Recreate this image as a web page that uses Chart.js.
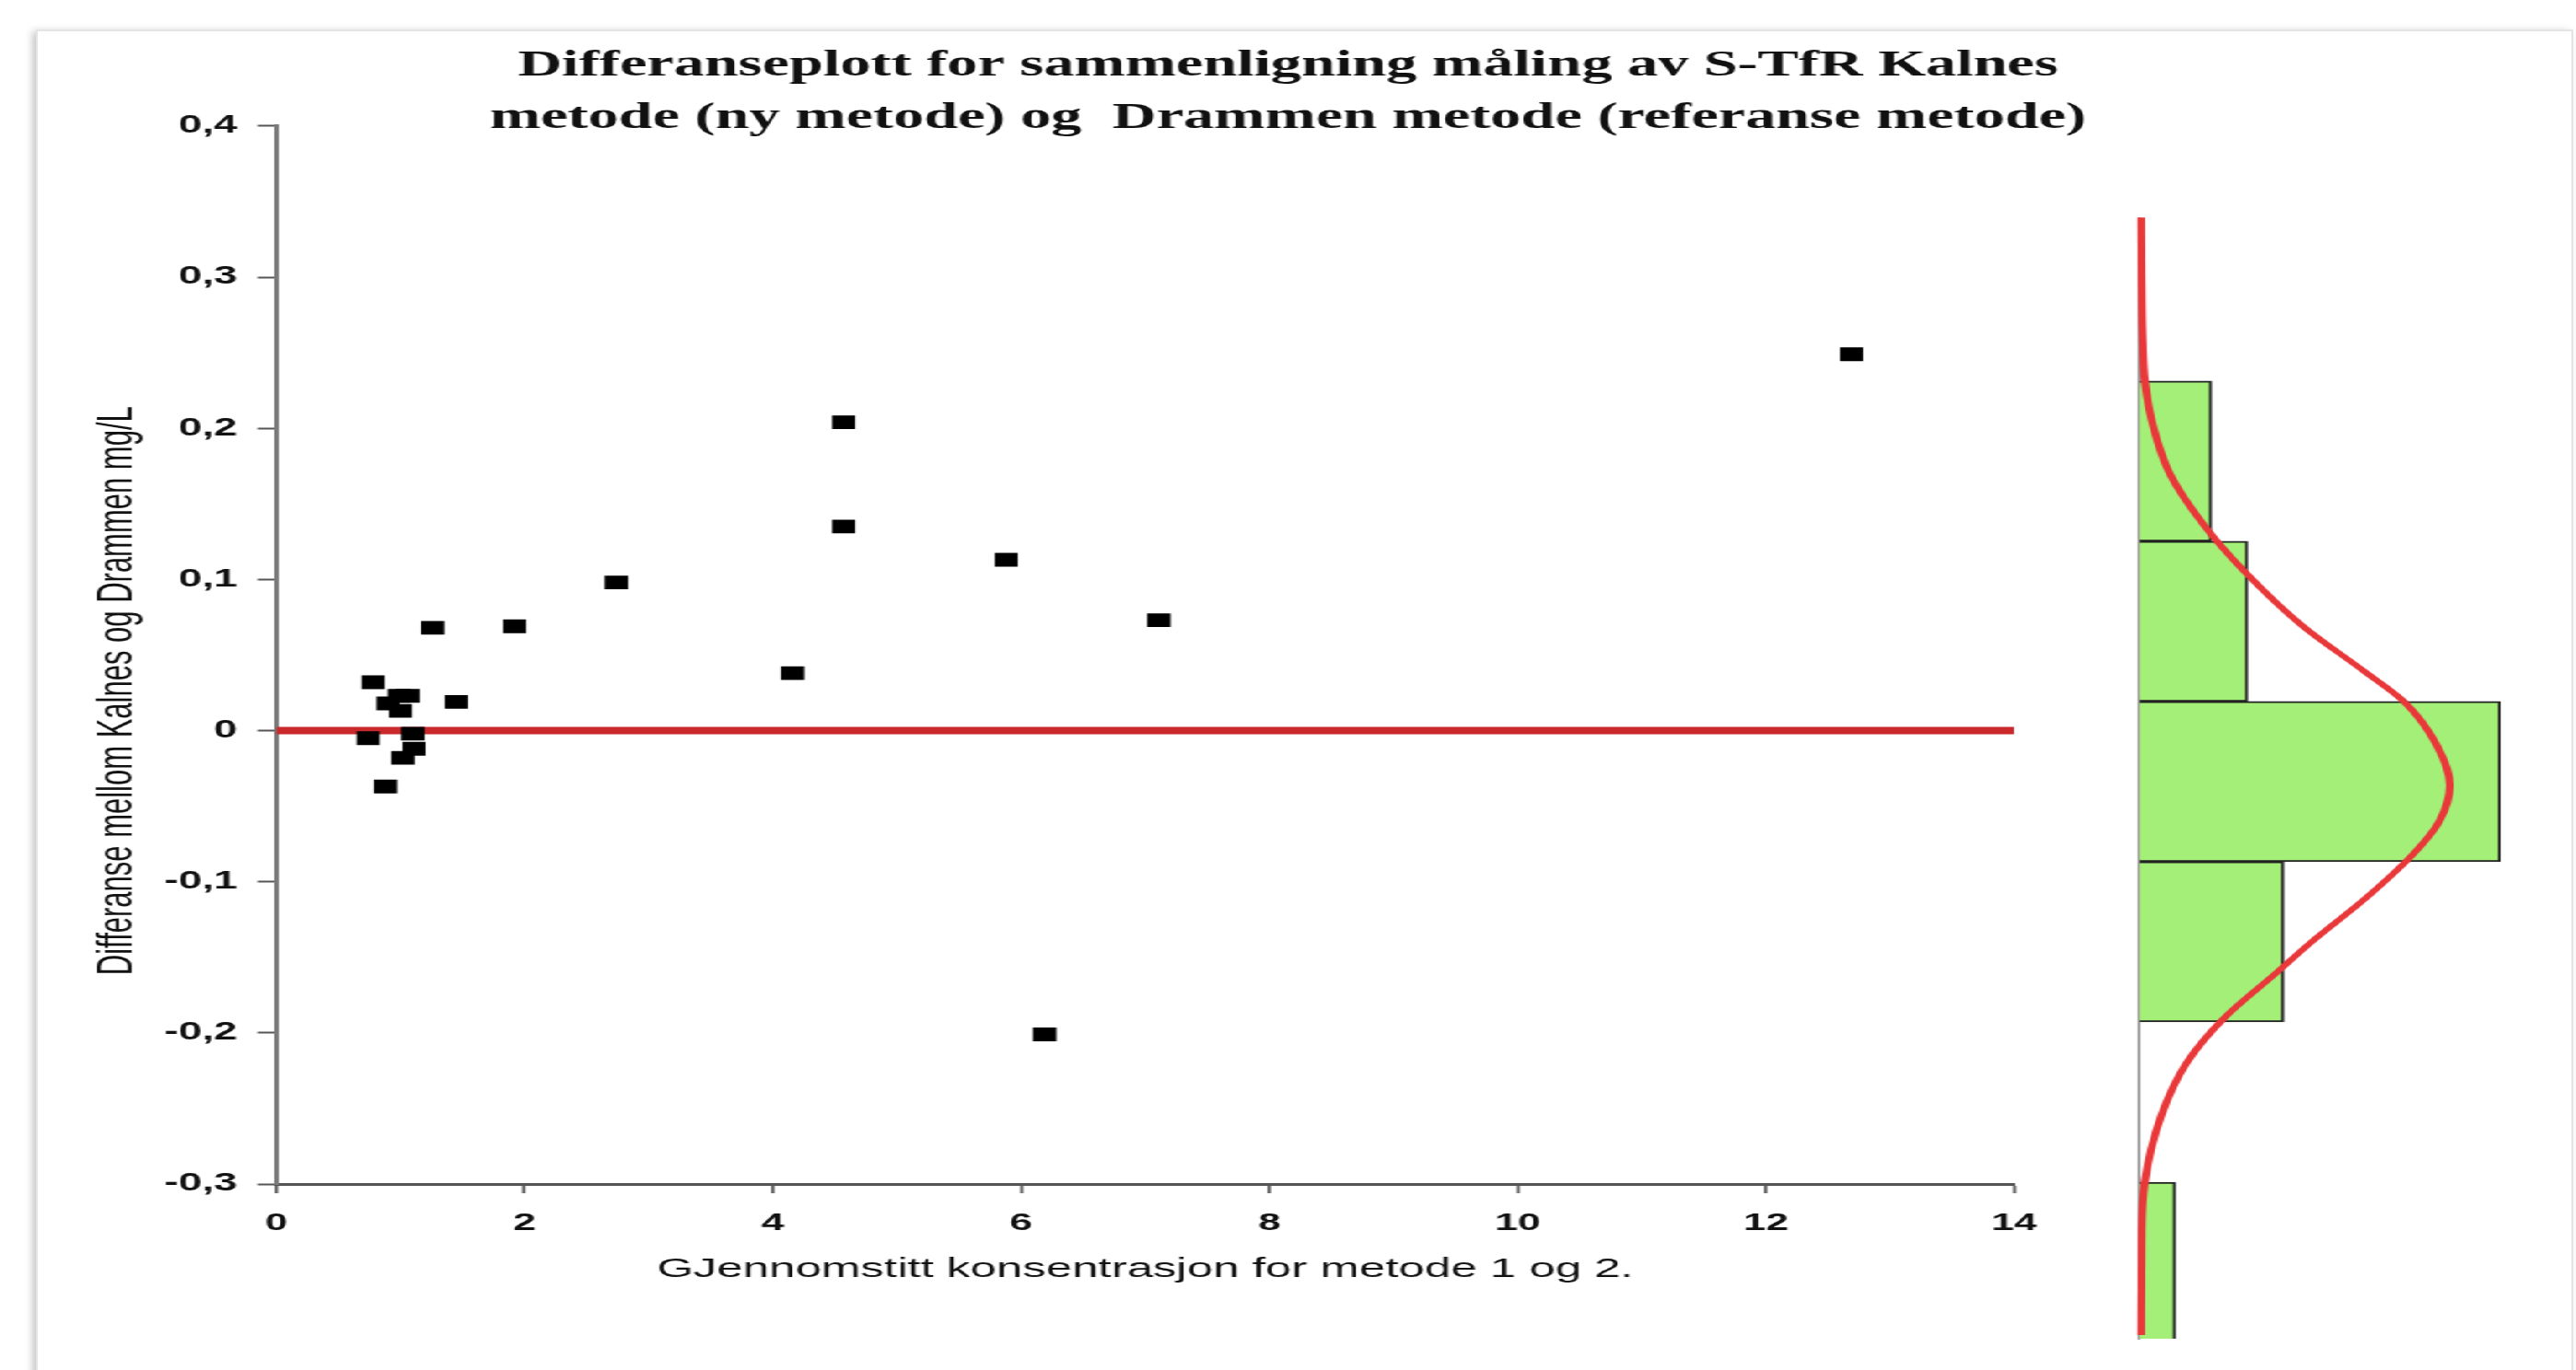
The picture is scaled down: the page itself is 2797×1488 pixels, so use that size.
<!DOCTYPE html>
<html><head><meta charset="utf-8">
<script src="https://cdn.jsdelivr.net/npm/chart.js@4.4.1/dist/chart.umd.min.js"></script>
<style>
html,body{margin:0;padding:0;background:#fff;width:2797px;height:1488px;overflow:hidden}
#frame{position:absolute;left:39px;top:32px;width:2751px;height:1500px;border:2px solid #e4e4e4;box-shadow:-4px 2px 8px rgba(0,0,0,0.22);}
#wrap{position:absolute;left:0;top:0;width:1645px;height:1488px;transform:scaleX(1.70030);transform-origin:0 0;}
#wrap canvas{position:absolute;left:0;top:0}
</style></head><body>
<div id="frame"></div>
<div id="wrap"><canvas id="scatter" width="1645" height="1488"></canvas><canvas id="hist" width="1645" height="1488"></canvas></div>
<script>
// ---- data ----
const titleLines = ["Differanseplott for sammenligning måling av S-TfR Kalnes", "metode (ny metode) og  Drammen metode (referanse metode)"];
const xTitle = "GJennomstitt konsentrasjon for metode 1 og 2.";
const yTitle = "Differanse mellom Kalnes og Drammen mg/L";
const meanConc = [0.78, 0.90, 0.99, 1.00, 1.06, 1.45, 0.74, 1.10, 1.11, 1.02, 0.88, 1.26, 1.92, 2.74, 4.16, 4.57, 4.57, 5.88, 7.11, 6.19, 12.69];
const diffVals = [0.032, 0.018, 0.023, 0.013, 0.023, 0.019, -0.005, -0.002, -0.012, -0.018, -0.037, 0.068, 0.069, 0.098, 0.038, 0.204, 0.135, 0.113, 0.073, -0.201, 0.249];
const zeroLineX = [0, 14];
const zeroLineY = [0, 0];
const xTicks = [0, 2, 4, 6, 8, 10, 12, 14];
const yTicks = [-0.3, -0.2, -0.1, 0, 0.1, 0.2, 0.3, 0.4];
const binCenters = [0.1787, 0.0726, -0.0335, -0.1396, -0.2457, -0.3518];
const binCounts = [2, 3, 10, 4, 0, 1];
const curveValues = [0.34, 0.30, 0.26, 0.232, 0.20, 0.17, 0.136, 0.106, 0.07, 0.04, 0.019, -0.01, -0.036, -0.06, -0.081, -0.11, -0.14, -0.16, -0.19, -0.22, -0.255, -0.30, -0.34, -0.40];
const curveCounts = [0.05, 0.06, 0.09, 0.15, 0.4, 0.85, 1.8, 2.9, 4.5, 6.2, 7.35, 8.25, 8.6, 8.3, 7.6, 6.3, 4.75, 3.8, 2.35, 1.3, 0.6, 0.14, 0.06, 0.05];

// ---- layout ----
const S = 1.70030;            // horizontal stretch of the original picture
const W0 = 1645, H0 = 1488;
const cx = fx => fx / S;       // full px -> canvas px (x only)

const tickFmt = v => String(v).replace('.', ',');
const sansFont = "'Liberation Sans', Arial, sans-serif";

new Chart(document.getElementById('scatter'), {
  type: 'scatter',
  data: {
    datasets: [
      {
        type: 'scatter',
        data: meanConc.map((x, i) => ({x, y: diffVals[i]})),
        pointStyle: 'rect', pointRadius: 10.5, pointHoverRadius: 10.5,
        backgroundColor: '#000', borderWidth: 0, order: 0
      },
      {
        type: 'line', showLine: true,
        data: zeroLineX.map((x, i) => ({x, y: zeroLineY[i]})),
        borderColor: '#c9292b', borderWidth: 8, pointRadius: 0, order: 1
      }
    ]
  },
  options: {
    responsive: false, animation: false, devicePixelRatio: 1,
    layout: {padding: {left: 0, right: 0, top: 0, bottom: H0 - 1397}},
    plugins: {
      legend: {display: false}, tooltip: {enabled: false},
      title: {
        display: true, text: titleLines, color: '#111',
        font: {family: "'Liberation Serif', serif", size: 39, weight: 'bold', lineHeight: 1.46},
        padding: {top: 43.5, bottom: -20.5}
      }
    },
    scales: {
      x: {
        type: 'linear', min: 0, max: 14,
        afterBuildTicks: s => { s.ticks = xTicks.map(v => ({value: v})); },
        afterFit: s => { s.height = 111; },
        border: {display: true, color: '#555', width: 3},
        grid: {drawOnChartArea: false, drawTicks: true, tickLength: 10, tickColor: '#555', tickWidth: 2},
        ticks: {color: '#111', padding: 17, font: {family: sansFont, size: 26, weight: 'bold'}, callback: tickFmt, maxRotation: 0},
        title: {display: true, text: xTitle, color: '#111', padding: {top: 0, bottom: 0},
                font: {family: sansFont, size: 30, lineHeight: 1.2}}
      },
      y: {
        type: 'linear', min: -0.3, max: 0.4,
        afterBuildTicks: s => { s.ticks = yTicks.map(v => ({value: v})); },
        afterFit: s => { s.width = cx(300); },
        border: {display: true, color: '#7a7a7a', width: 3},
        grid: {drawOnChartArea: false, drawTicks: true, tickLength: 12, tickColor: '#555', tickWidth: 2},
        ticks: {color: '#111', padding: 13, font: {family: sansFont, size: 27, weight: 'bold'}, callback: tickFmt},
        title: {display: true, text: yTitle + '         ', color: '#111', padding: {top: cx(128) - 18.6, bottom: 0},
                font: {family: sansFont, size: 31, lineHeight: 1.2}}
      },
      spacer: {
        type: 'linear', position: 'right', display: true,
        afterFit: s => { s.width = W0 - cx(2187); },
        border: {display: false}, grid: {display: false, drawTicks: false}, ticks: {display: false}
      }
    }
  }
});

const histMax = 11;
const histLeft = cx(2323);
const histRight = cx(2323 + histMax * 39.2);
new Chart(document.getElementById('hist'), {
  type: 'bar',
  data: {
    datasets: [
      {
        type: 'line', indexAxis: 'y',
        data: curveValues.map((v, i) => ({x: curveCounts[i], y: v})),
        borderColor: '#e8383a', borderWidth: 5, pointRadius: 0, tension: 0.4,
        cubicInterpolationMode: 'monotone', order: 0,
        clip: {left: 6, top: 2, right: 2, bottom: 2}
      },
      {
        type: 'bar', indexAxis: 'y',
        data: binCenters.map((v, i) => ({x: binCounts[i], y: v})),
        backgroundColor: '#a3ef78', borderColor: '#222', borderWidth: 2,
        barPercentage: 1, categoryPercentage: 1, order: 1
      }
    ]
  },
  options: {
    indexAxis: 'y',
    responsive: false, animation: false, devicePixelRatio: 1,
    layout: {padding: {left: histLeft, right: W0 - histRight, top: 237, bottom: H0 - 1454}},
    plugins: {legend: {display: false}, tooltip: {enabled: false}, title: {display: false}},
    scales: {
      x: {type: 'linear', min: 0, max: histMax, display: false, offset: false},
      y: {
        type: 'linear', min: -0.4024, max: 0.3396, display: true, offset: false,
        afterBuildTicks: s => { s.ticks = binCenters.map(v => ({value: v})); },
        afterFit: s => { s.width = 0; },
        border: {display: true, color: '#9a9a9a', width: 2},
        grid: {drawOnChartArea: false, drawTicks: false, offset: false},
        ticks: {display: false}
      }
    }
  }
});
</script>
</body></html>
